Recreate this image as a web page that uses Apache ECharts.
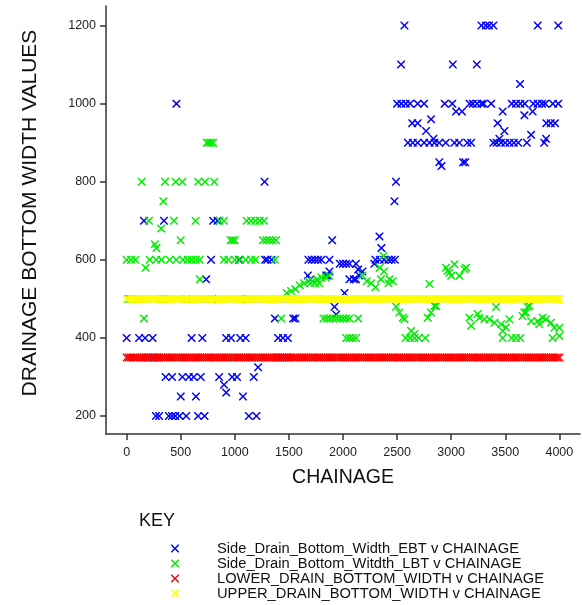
<!DOCTYPE html>
<html><head><meta charset="utf-8">
<script src="https://cdn.jsdelivr.net/npm/echarts@6/dist/echarts.min.js"></script>
<style>html,body{margin:0;padding:0;background:#fff}#c{width:582px;height:605px}</style>
</head><body><div id="c"></div>
<script>
const xTicks = [0, 500, 1000, 1500, 2000, 2500, 3000, 3500, 4000];
const yTicks = [200, 400, 600, 800, 1000, 1200];
const seriesNames = [
  'Side_Drain_Bottom_Width_EBT v CHAINAGE',
  'Side_Drain_Bottom_Witdth_LBT v CHAINAGE',
  'LOWER_DRAIN_BOTTOM_WIDTH v CHAINAGE',
  'UPPER_DRAIN_BOTTOM_WIDTH v CHAINAGE'
];
const xTitle = 'CHAINAGE';
const yTitle = 'DRAINAGE BOTTOM WIDTH VALUES';
const keyTitle = 'KEY';

// [chainage, width]
const ebtPoints = [
 [270,200],[300,200],[390,200],[420,200],[450,200],[490,200],[550,200],[660,200],[720,200],[1130,200],[1200,200],
 [500,250],[640,250],[1075,250],[920,260],[900,280],
 [360,300],[420,300],[515,300],[575,300],[620,300],[685,300],[855,300],[975,300],[1020,300],[1175,300],
 [1215,325],
 [200,350],[240,350],[280,350],[1400,350],[1440,350],[1480,350],
 [0,400],[115,400],[170,400],[240,400],[600,400],[700,400],[920,400],[965,400],[1050,400],[1100,400],[1400,400],[1445,400],[1490,400],
 [1370,450],[1540,450],[1560,450],[1937,460],[1921,480],[2014,515],
 [30,500],[80,500],[180,500],[330,500],[350,500],[550,500],[760,500],[790,500],[1110,500],[1140,500],[1240,500],[1440,500],[1480,500],[1560,500],[1780,500],
 [735,550],[1700,550],[2060,550],[2100,550],[2120,550],
 [1675,560],[1845,560],[1860,560],[2150,560],
 [1875,570],[2140,575],[2180,570],
 [1970,590],[2000,590],[2030,590],[2060,590],[2120,590],[2290,590],
 [780,600],[1040,600],[1280,600],[1300,600],[1340,600],[1680,600],[1710,600],[1740,600],[1770,600],[1800,600],[1875,600],[2300,600],[2340,600],[2380,600],[2420,600],[2450,600],[2480,600],
 [2355,630],[1900,650],[2337,660],
 [160,700],[345,700],[800,700],[840,700],
 [2476,750],[1275,800],[2490,800],
 [2890,850],[2910,840],[3110,850],[3130,850],
 [2600,900],[2645,900],[2690,900],[2750,900],[2800,900],[2845,900],[2890,900],[2950,900],[3030,900],[3075,900],[3150,900],[3185,900],[3390,900],[3420,900],[3460,900],[3500,900],[3540,900],[3580,900],[3620,900],[3700,900],[3860,900],
 [2836,910],[3446,910],[3877,910],[3739,920],[2768,930],[3492,930],
 [2640,950],[2690,950],[3430,950],[3880,950],[3920,950],[3960,950],[2814,960],[3677,970],
 [3045,980],[3100,980],[3476,980],[3753,980],
 [460,1000],[2500,1000],[2540,1000],[2580,1000],[2620,1000],[2690,1000],[2750,1000],[2940,1000],[3010,1000],[3170,1000],[3200,1000],[3240,1000],[3280,1000],[3300,1000],[3370,1000],[3560,1000],[3600,1000],[3640,1000],[3680,1000],[3760,1000],[3800,1000],[3840,1000],[3870,1000],[3940,1000],[3990,1000],
 [3637,1050],[2537,1100],[3015,1100],[3237,1100],
 [2568,1200],[3280,1200],[3320,1200],[3350,1200],[3390,1200],[3800,1200],[3990,1200]
];

const lbtPoints = [
 [740,900],[760,900],[780,900],[800,900],
 [139,800],[354,800],[453,800],[515,800],[662,800],[724,800],[810,800],
 [339,750],
 [206,700],[437,700],[637,700],[860,700],[900,700],[1110,700],[1150,700],[1190,700],[1230,700],[1270,700],
 [320,680],
 [499,650],[960,650],[980,650],[1000,650],[1260,650],[1290,650],[1320,650],[1350,650],[1380,650],
 [260,640],[275,630],
 [0,600],[40,600],[80,600],[212,600],[274,600],[320,600],[397,600],[459,600],[520,600],[565,600],[600,600],[640,600],[675,600],[900,600],[940,600],[1000,600],[1050,600],[1100,600],[1150,600],[1190,600],[1370,600],
 [175,580],[2374,610],[677,550],[2430,550],
 [10,500],[50,500],[340,500],[560,500],[730,500],[1100,500],[1130,500],[1500,500],
 [1480,515],[1520,520],[1560,525],[1600,535],[1640,540],[1680,545],[1720,545],[1760,550],[1800,555],[1840,555],[1870,560],[1700,540],[1740,540],[1780,540],
 [2180,560],[2220,545],[2260,540],[2300,530],[2350,550],[2380,570],[2420,540],[2460,545],[2340,580],
 [160,450],[1430,450],[1820,450],[1850,450],[1880,450],[1910,450],[1940,450],[1970,450],[2000,450],[2030,450],[2060,450],[2140,450],
 [2030,400],[2060,400],[2090,400],[2120,400],
 [2491,480],[2522,465],[2553,452],[2568,448],[2630,418],[2660,410],[2580,400],[2620,400],[2660,400],[2700,400],[2760,400],[2783,452],[2814,465],[2845,482],[2861,482],[2799,538],
 [2953,580],[2968,572],[2984,567],[3000,559],[3030,589],[3076,559],[3122,576],[3138,580],
 [3169,452],[3184,431],[3245,461],[3261,452],[3307,448],[3353,448],[3400,439],[3415,479],[3461,435],[3476,418],[3476,400],[3507,427],[3538,448],[3560,400],[3600,400],[3640,400],[3661,456],[3676,465],[3692,465],[3707,480],[3723,482],[3739,443],[3800,443],[3815,435],[3846,452],[3877,448],[3923,439],[3938,400],[3954,426],[4000,426],[4000,405]
];

// chainage stations of the design limit lines
const stations = [
 0,20,40,60,80,100,120,140,160,180,
 200,220,240,260,280,300,320,340,360,380,
 400,420,440,460,480,500,520,540,560,580,
 600,620,640,660,680,700,720,740,760,780,
 800,820,840,860,880,900,920,940,960,980,
 1000,1020,1040,1060,1080,1100,1120,1140,1160,1180,
 1200,1220,1240,1260,1280,1300,1320,1340,1360,1380,
 1400,1420,1440,1460,1480,1500,1520,1540,1560,1580,
 1600,1620,1640,1660,1680,1700,1720,1740,1760,1780,
 1800,1820,1840,1860,1880,1900,1920,1940,1960,1980,
 2000,2020,2040,2060,2080,2100,2120,2140,2160,2180,
 2200,2220,2240,2260,2280,2300,2320,2340,2360,2380,
 2400,2420,2440,2460,2480,2500,2520,2540,2560,2580,
 2600,2620,2640,2660,2680,2700,2720,2740,2760,2780,
 2800,2820,2840,2860,2880,2900,2920,2940,2960,2980,
 3000,3020,3040,3060,3080,3100,3120,3140,3160,3180,
 3200,3220,3240,3260,3280,3300,3320,3340,3360,3380,
 3400,3420,3440,3460,3480,3500,3520,3540,3560,3580,
 3600,3620,3640,3660,3680,3700,3720,3740,3760,3780,
 3800,3820,3840,3860,3880,3900,3920,3940,3960,3980,
 4000
];
const lowerWidth = 350;
const upperWidth = 500;

const colors = ['#0000ff', '#00ee00', '#ff0000', '#ffff00'];
const xMark = 'path://M0,0L1.3,0L5,3.7L8.7,0L10,0L10,1.3L6.3,5L10,8.7L10,10L8.7,10L5,6.3L1.3,10L0,10L0,8.7L3.7,5L0,1.3Z';
const FONT = 'Liberation Sans, Arial, sans-serif';

const chart = echarts.init(document.getElementById('c'), null, {renderer: 'canvas'});

function mk(name, data, color) {
  return {
    name: name, type: 'scatter', data: data,
    symbol: xMark, symbolSize: [8, 8],
    itemStyle: {color: color, opacity: 1},
    emphasis: {disabled: true},
    animation: false
  };
}
function plain(v) { return String(v); }

chart.setOption({
  animation: false,
  backgroundColor: '#ffffff',
  grid: {left: 106, top: 6, width: 474, height: 428, containLabel: false},
  xAxis: {
    type: 'value', min: -191, max: 4191,
    axisLine: {show: true, onZero: false, lineStyle: {color: '#333', width: 1.5}},
    axisTick: {show: true, customValues: xTicks, length: 6, lineStyle: {color: '#333', width: 1.5}},
    axisLabel: {customValues: xTicks, formatter: plain, fontSize: 12.5, color: '#222', margin: 12, fontFamily: FONT},
    splitLine: {show: false}
  },
  yAxis: {
    type: 'value', min: 154, max: 1250,
    axisLine: {show: true, onZero: false, lineStyle: {color: '#333', width: 1.5}},
    axisTick: {show: true, customValues: yTicks, length: 6, lineStyle: {color: '#333', width: 1.5}},
    axisLabel: {customValues: yTicks, formatter: plain, fontSize: 12.5, color: '#222', margin: 10, fontFamily: FONT},
    splitLine: {show: false}
  },
  legend: {
    data: seriesNames,
    orient: 'vertical', left: 171, top: 541, padding: 0,
    itemWidth: 8, itemHeight: 8, itemGap: 0,
    formatter: function (n) { return '{g|}' + n; },
    textStyle: {fontSize: 14.7, color: '#111', fontFamily: FONT, lineHeight: 14.7,
      rich: {g: {width: 33}}},
    selectedMode: false
  },
  graphic: [
    {type: 'text', left: 139, top: 512, style: {text: keyTitle, fontSize: 18, fontFamily: FONT, fill: '#111'}},
    {type: 'text', x: 343, y: 478, style: {text: xTitle, fontSize: 19.5, fontFamily: FONT, fill: '#111', align: 'center', verticalAlign: 'middle'}},
    {type: 'text', x: 30, y: 213, rotation: Math.PI / 2, style: {text: yTitle, fontSize: 21, fontFamily: FONT, fill: '#111', align: 'center', verticalAlign: 'middle'}}
  ],
  series: [
    mk(seriesNames[0], ebtPoints, colors[0]),
    mk(seriesNames[1], lbtPoints, colors[1]),
    mk(seriesNames[2], stations.map(function (s) { return [s, lowerWidth]; }), colors[2]),
    mk(seriesNames[3], stations.map(function (s) { return [s, upperWidth]; }), colors[3])
  ]
});
</script>
</body></html>
